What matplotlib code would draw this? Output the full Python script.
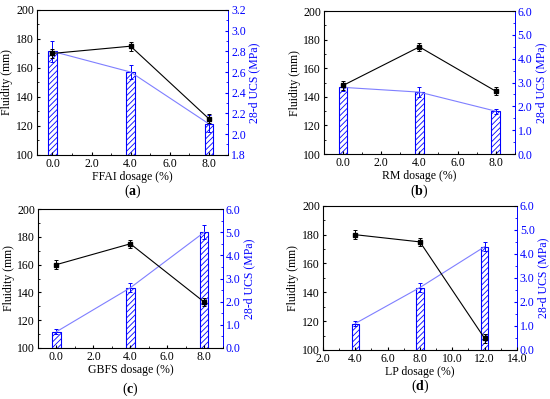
import numpy as np
import matplotlib
matplotlib.use('Agg')
import matplotlib.pyplot as plt
from matplotlib.ticker import AutoMinorLocator

plt.rcParams['font.family'] = ['Liberation Serif', 'DejaVu Serif']
plt.rcParams['mathtext.fontset'] = 'custom'
plt.rcParams['mathtext.rm'] = 'Liberation Serif'
plt.rcParams['mathtext.bf'] = 'Liberation Serif:bold'
plt.rcParams['hatch.color'] = 'blue'
plt.rcParams['hatch.linewidth'] = 0.6

# data for each panel
dosage_a = [0.0, 4.0, 8.0]
fluidity_a = [170, 175, 125]
fluidity_err_a = [3, 3, 3]
ucs_a = [2.8, 2.6, 2.1]
ucs_err_a = [0.1, 0.07, 0.08]

dosage_b = [0.0, 4.0, 8.0]
fluidity_b = [148, 175, 144]
fluidity_err_b = [3, 3, 3]
ucs_b = [2.8, 2.6, 1.8]
ucs_err_b = [0.15, 0.2, 0.1]

dosage_c = [0.0, 4.0, 8.0]
fluidity_c = [160, 175, 133]
fluidity_err_c = [3, 3, 3]
ucs_c = [0.7, 2.6, 5.0]
ucs_err_c = [0.1, 0.2, 0.3]

dosage_d = [4.0, 8.0, 12.0]
fluidity_d = [180, 175, 108]
fluidity_err_d = [3, 3, 3]
ucs_d = [1.1, 2.6, 4.3]
ucs_err_d = [0.1, 0.2, 0.2]

panels = [
    dict(x=dosage_a, fl=fluidity_a, fle=fluidity_err_a, ucs=ucs_a, ue=ucs_err_a,
         xlabel='FFAI dosage (%)', tag='a', xlim=(-0.8, 9.0), xticks=[0, 2, 4, 6, 8],
         ylim2=(1.8, 3.2), yticks2=np.arange(1.8, 3.21, 0.2), width=0.42,
         pos=[0.067, 0.612, 0.348, 0.363], tag_y=191),
    dict(x=dosage_b, fl=fluidity_b, fle=fluidity_err_b, ucs=ucs_b, ue=ucs_err_b,
         xlabel='RM dosage (%)', tag='b', xlim=(-1.0, 9.0), xticks=[0, 2, 4, 6, 8],
         ylim2=(0, 6), yticks2=np.arange(0, 6.01, 1.0), width=0.45,
         pos=[0.589, 0.614, 0.347, 0.358], tag_y=191),
    dict(x=dosage_c, fl=fluidity_c, fle=fluidity_err_c, ucs=ucs_c, ue=ucs_err_c,
         xlabel='GBFS dosage (%)', tag='c', xlim=(-1.0, 9.0), xticks=[0, 2, 4, 6, 8],
         ylim2=(0, 6), yticks2=np.arange(0, 6.01, 1.0), width=0.45,
         pos=[0.069, 0.128, 0.336, 0.348], tag_y=389),
    dict(x=dosage_d, fl=fluidity_d, fle=fluidity_err_d, ucs=ucs_d, ue=ucs_err_d,
         xlabel='LP dosage (%)', tag='d', xlim=(2.0, 14.0), xticks=[2, 4, 6, 8, 10, 12, 14],
         ylim2=(0, 6), yticks2=np.arange(0, 6.01, 1.0), width=0.45,
         pos=[0.587, 0.123, 0.353, 0.361], tag_y=386),
]

fig = plt.figure(figsize=(5.5, 3.99), dpi=100)
H = 399.0

for p in panels:
    ax = fig.add_axes(p['pos'])
    ax2 = ax.twinx()
    base = p['ylim2'][0]
    heights = [v - base for v in p['ucs']]
    # UCS bars + line on right axis
    ax2.bar(p['x'], heights, width=p['width'], bottom=base,
            color='white', edgecolor='blue', hatch='//////', linewidth=0.8, zorder=2)
    ax2.errorbar(p['x'], p['ucs'], yerr=p['ue'], fmt='none', ecolor='blue',
                 elinewidth=0.7, capsize=1.5, capthick=0.7, zorder=3)
    ax2.plot(p['x'], p['ucs'], color='#7f7fff', lw=0.8, zorder=3)
    ax2.set_ylim(*p['ylim2'])
    ax2.set_yticks(p['yticks2'])
    ax2.set_yticklabels([f'{v:.1f}' for v in p['yticks2']])
    ax2.yaxis.set_minor_locator(AutoMinorLocator(2))
    ax2.set_ylabel('28-d UCS (MPa)', color='blue', fontsize=8.5, labelpad=2)
    ax2.tick_params(axis='y', which='both', colors='blue', labelcolor='blue',
                    direction='in', labelsize=8.5, length=2.5, pad=2)
    ax2.tick_params(axis='y', which='minor', length=1.5)
    ax2.spines['right'].set_color('blue')
    ax2.spines['right'].set_linewidth(0.7)

    # fluidity line on left axis, drawn on top
    ax.set_zorder(ax2.get_zorder() + 1)
    ax.patch.set_visible(False)
    ax.errorbar(p['x'], p['fl'], yerr=p['fle'], color='black', marker='s',
                markersize=3.5, lw=0.8, elinewidth=0.7, capsize=1.5, capthick=0.7)
    ax.set_ylim(100, 200)
    ax.set_yticks(np.arange(100, 201, 20))
    ax.set_xlim(*p['xlim'])
    ax.set_xticks(p['xticks'])
    ax.set_xticklabels([f'{v:.1f}' for v in p['xticks']])
    ax.xaxis.set_minor_locator(AutoMinorLocator(2))
    ax.yaxis.set_minor_locator(AutoMinorLocator(2))
    ax.set_ylabel('Fluidity (mm)', fontsize=8.5, labelpad=2)
    ax.tick_params(which='both', direction='in', labelsize=8.5, length=2.5, pad=2)
    ax.tick_params(which='minor', length=1.5)
    ax.set_xlabel(p['xlabel'], fontsize=8.5, labelpad=1)
    for s in ax.spines.values():
        s.set_linewidth(0.7)
    ax.spines['right'].set_visible(False)

    cx = p['pos'][0] + p['pos'][2] / 2
    fig.text(cx, 1 - p['tag_y'] / H, r'($\mathbf{' + p['tag'] + '}$)',
             ha='center', va='center', fontsize=10)

fig.savefig('out.png', dpi=100)
